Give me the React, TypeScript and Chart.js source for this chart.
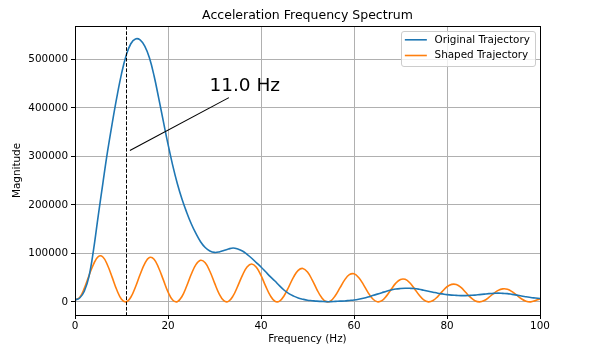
import React, { useEffect, useRef } from "react";
import { Chart, registerables } from "chart.js";

Chart.register(...registerables);

const TITLE = "Acceleration Frequency Spectrum";
const X_LABEL = "Frequency (Hz)";
const Y_LABEL = "Magnitude";
const SERIES_NAMES = ["Original Trajectory", "Shaped Trajectory"];
const SERIES_COLORS = ["#1f77b4", "#ff7f0e"];

const FREQ_HZ = [
  0, 1, 2, 3, 4, 5, 6, 7, 8, 9,
  10, 11, 12, 13, 14, 15, 16, 17, 18, 19,
  20, 21, 22, 23, 24, 25, 26, 27, 28, 29,
  30, 31, 32, 33, 34, 35, 36, 37, 38, 39,
  40, 41, 42, 43, 44, 45, 46, 47, 48, 49,
  50, 51, 52, 53, 54, 55, 56, 57, 58, 59,
  60, 61, 62, 63, 64, 65, 66, 67, 68, 69,
  70, 71, 72, 73, 74, 75, 76, 77, 78, 79,
  80, 81, 82, 83, 84, 85, 86, 87, 88, 89,
  90, 91, 92, 93, 94, 95, 96, 97, 98, 99,
  100,
];

const ORIGINAL_MAG = [
  4000, 8000, 22000, 52000, 108000, 178000, 245000, 310000, 368000, 422000,
  470000, 508000, 532000, 542000, 540000, 527000, 503000, 466000, 420000, 372000,
  325000, 282000, 244000, 212000, 185000, 161000, 141000, 124000, 112000, 105000,
  102000, 103000, 106000, 109000, 111000, 109000, 105000, 98000, 90000, 81000,
  72000, 62000, 52000, 43000, 33000, 24000, 17000, 12000, 8000, 5500,
  3500, 2500, 1500, 1000, 500, 500, 1000, 1500, 2000, 3000,
  4000, 5500, 7500, 10000, 13000, 16000, 19000, 22000, 24500, 26500,
  27500, 28000, 28000, 27500, 26000, 24000, 22000, 20000, 18000, 16500,
  15000, 14000, 13500, 13000, 13000, 13500, 14000, 15000, 16000, 17000,
  17500, 18000, 17500, 17000, 15500, 14000, 12000, 10500, 9000, 8000,
  7000,
];

const SHAPED_MAG = [
  4000, 9000, 28000, 54000, 78000, 93500, 92500, 75500, 50500, 24500,
  5700, 100, 9500, 30600, 56500, 78900, 91300, 87900, 69900, 45400,
  20600, 4000, 500, 11100, 32200, 56900, 76800, 85700, 80600, 63200,
  39200, 16700, 2600, 1100, 12400, 32600, 54800, 71800, 78000, 71500,
  54500, 32500, 12800, 1400, 1700, 13100, 31700, 51100, 65100, 68900,
  61500, 45500, 26000, 9400, 600, 2200, 13100, 29300, 45400, 56100,
  57800, 50200, 36000, 19600, 6400, 200, 2600, 12400, 25900, 38700,
  46300, 46500, 39400, 27200, 14100, 4100, 0, 2800, 11000, 21700,
  31200, 36100, 35800, 29800, 19900, 9800, 2500, 0, 2700, 9300,
  17200, 23700, 26800, 26000, 21100, 13800, 6400, 1400, 100, 2600,
  6000,
];

const X_TICKS = [0, 20, 40, 60, 80, 100];
const Y_TICKS = [0, 100000, 200000, 300000, 400000, 500000];
const X_RANGE = [0, 100];
const Y_RANGE = [-27000, 568600];

const MARKER_HZ = 11.0;
const MARKER_LABEL = "11.0 Hz";
const ARROW_FROM = [11.8, 312000];
const ARROW_TO = [33.1, 421000];
const LABEL_AT = [28.9, 435500];

const FONT = '"DejaVu Sans", "Liberation Sans", sans-serif';

const overlayPlugin = {
  id: "overlay",
  afterDatasetsDraw(chart: any) {
    const { ctx, chartArea: a, scales } = chart;
    const x = scales.x;
    const y = scales.y;
    ctx.save();
    ctx.beginPath();
    ctx.rect(a.left, a.top, a.right - a.left, a.bottom - a.top);
    ctx.clip();
    const vx = Math.round(x.getPixelForValue(MARKER_HZ)) + 0.5;
    ctx.strokeStyle = "#000";
    ctx.lineWidth = 1;
    ctx.setLineDash([3.7, 1.6]);
    ctx.beginPath();
    ctx.moveTo(vx, a.top);
    ctx.lineTo(vx, a.bottom);
    ctx.stroke();
    ctx.setLineDash([]);
    ctx.lineWidth = 1.1;
    ctx.beginPath();
    ctx.moveTo(x.getPixelForValue(ARROW_FROM[0]), y.getPixelForValue(ARROW_FROM[1]));
    ctx.lineTo(x.getPixelForValue(ARROW_TO[0]), y.getPixelForValue(ARROW_TO[1]));
    ctx.stroke();
    ctx.fillStyle = "#000";
    ctx.font = `18.5px ${FONT}`;
    ctx.textAlign = "left";
    ctx.textBaseline = "alphabetic";
    ctx.fillText(MARKER_LABEL, x.getPixelForValue(LABEL_AT[0]), y.getPixelForValue(LABEL_AT[1]));
    ctx.restore();
  },
  afterDraw(chart: any) {
    const { ctx, chartArea: a } = chart;
    ctx.save();
    ctx.strokeStyle = "#000";
    ctx.lineWidth = 1;
    const l = Math.round(a.left) + 0.5;
    const t = Math.round(a.top) + 0.5;
    const r = Math.round(a.right) + 0.5;
    const b = Math.round(a.bottom) + 0.5;
    ctx.strokeRect(l, t, r - l, b - t);

    ctx.font = `10.4px ${FONT}`;
    const names = chart.data.datasets.map((d: any) => d.label);
    const tw = Math.max(...names.map((n: string) => ctx.measureText(n).width));
    const pad = 3.6, handle = 22, gap = 7.7, rowH = 15.7;
    const w = pad + handle + gap + tw + 5;
    const h = 34.5;
    const bx = a.right - 5.2 - w;
    const by = a.top + 5.2;
    ctx.beginPath();
    (ctx as any).roundRect(Math.round(bx) + 0.5, Math.round(by) + 0.5, Math.round(w), Math.round(h), 2.5);
    ctx.fillStyle = "rgba(255,255,255,0.8)";
    ctx.fill();
    ctx.strokeStyle = "#cccccc";
    ctx.lineWidth = 1;
    ctx.stroke();
    chart.data.datasets.forEach((d: any, i: number) => {
      const cy = by + 8.6 + i * rowH;
      ctx.strokeStyle = d.borderColor;
      ctx.lineWidth = 1.6;
      ctx.beginPath();
      ctx.moveTo(bx + pad, cy);
      ctx.lineTo(bx + pad + handle, cy);
      ctx.stroke();
      ctx.fillStyle = "#000";
      ctx.textAlign = "left";
      ctx.textBaseline = "middle";
      ctx.fillText(d.label, bx + pad + handle + gap, cy);
    });
    ctx.restore();
  },
};

export default function App() {
  const canvasRef = useRef<HTMLCanvasElement | null>(null);

  useEffect(() => {
    const canvas = canvasRef.current;
    if (!canvas) return;
    const tickFont = { family: FONT, size: 10.4 };
    const gridOpts = {
      color: "#b0b0b0",
      lineWidth: 1,
      tickColor: "#000",
      tickLength: 4,
      tickWidth: 1,
    };
    const chart = new Chart(canvas, {
      type: "line",
      data: {
        datasets: [
          {
            label: SERIES_NAMES[0],
            data: FREQ_HZ.map((f, i) => ({ x: f, y: ORIGINAL_MAG[i] })),
            borderColor: SERIES_COLORS[0],
            backgroundColor: SERIES_COLORS[0],
            borderWidth: 1.6,
            pointRadius: 0,
            fill: false,
            tension: 0.4,
          },
          {
            label: SERIES_NAMES[1],
            data: FREQ_HZ.map((f, i) => ({ x: f, y: SHAPED_MAG[i] })),
            borderColor: SERIES_COLORS[1],
            backgroundColor: SERIES_COLORS[1],
            borderWidth: 1.6,
            pointRadius: 0,
            fill: false,
            tension: 0.4,
          },
        ],
      },
      options: {
        animation: false,
        responsive: false,
        events: [],
        layout: { padding: { left: 0, top: 0, right: 60, bottom: 0 } },
        plugins: {
          legend: { display: false },
          tooltip: { enabled: false },
          title: {
            display: true,
            text: TITLE,
            color: "#000",
            fullSize: false,
            font: { family: FONT, size: 12.5, weight: "normal", lineHeight: 1.2 },
            padding: { top: 8, bottom: 3 },
          },
        },
        scales: {
          x: {
            type: "linear",
            min: X_RANGE[0],
            max: X_RANGE[1],
            afterBuildTicks: (s: any) => {
              s.ticks = X_TICKS.map((v) => ({ value: v }));
            },
            afterFit: (s: any) => {
              s.height = 41;
            },
            ticks: {
              color: "#000",
              font: tickFont,
              padding: 1.5,
              maxRotation: 0,
              autoSkip: false,
              callback: (v: any) => String(v),
            },
            grid: gridOpts,
            border: { display: false },
            title: {
              display: true,
              text: X_LABEL,
              color: "#000",
              font: tickFont,
              padding: { top: 0, bottom: 10 },
            },
          },
          y: {
            type: "linear",
            min: Y_RANGE[0],
            max: Y_RANGE[1],
            afterBuildTicks: (s: any) => {
              s.ticks = Y_TICKS.map((v) => ({ value: v }));
            },
            afterFit: (s: any) => {
              s.width = 75;
            },
            ticks: {
              color: "#000",
              font: tickFont,
              padding: 3,
              autoSkip: false,
              callback: (v: any) => String(v),
            },
            grid: gridOpts,
            border: { display: false },
            title: {
              display: true,
              text: Y_LABEL,
              color: "#000",
              font: tickFont,
              padding: { top: 11.2, bottom: 0 },
            },
          },
        },
      } as any,
      plugins: [overlayPlugin],
    });
    return () => chart.destroy();
  }, []);

  return (
    <div style={{ position: "absolute", left: 0, top: 0, width: 600, height: 356, background: "#fff" }}>
      <canvas ref={canvasRef} width={600} height={356} style={{ display: "block" }} />
    </div>
  );
}
